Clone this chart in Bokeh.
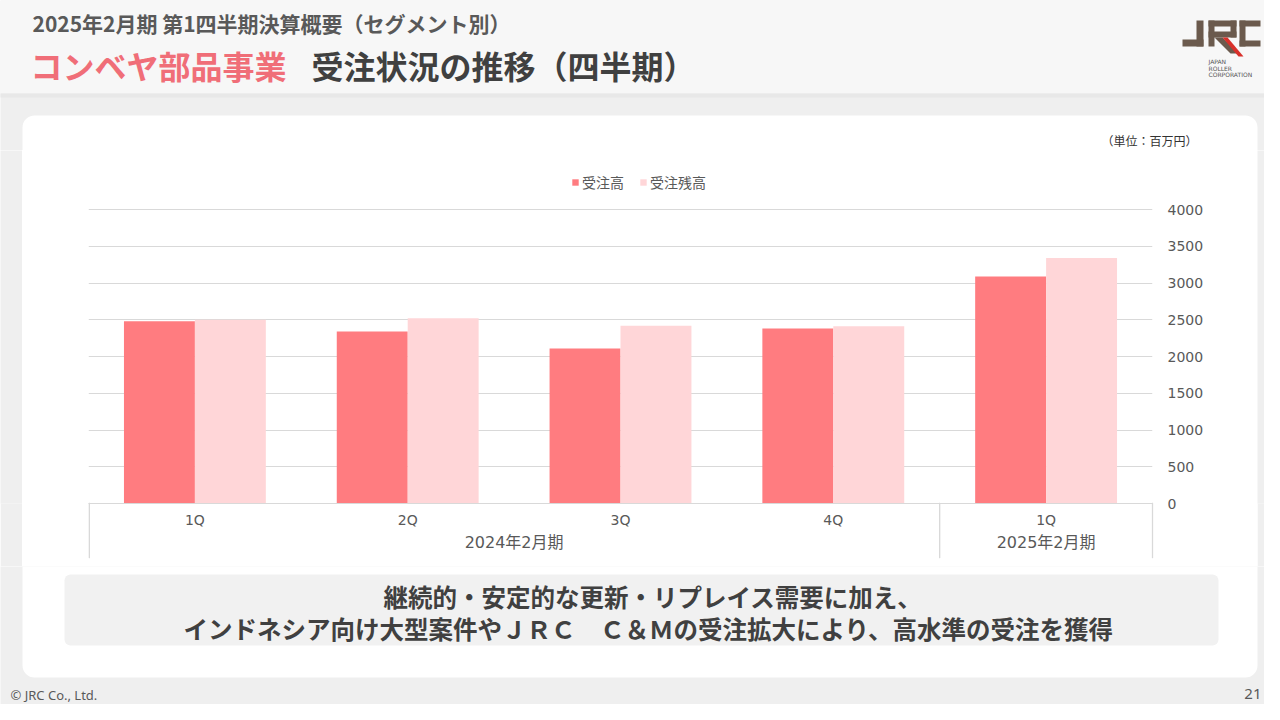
from bokeh.plotting import figure
from bokeh.layouts import column, row
from bokeh.models import (ColumnDataSource, FactorRange, Range1d, Legend, LegendItem,
                          BoxAnnotation, PolyAnnotation, Label, FixedTicker)
from bokeh.transform import dodge
from bokeh.embed import file_html
from bokeh.resources import INLINE

# ---- data ----
periods = ["2024年2月期", "2024年2月期", "2024年2月期", "2024年2月期", "2025年2月期"]
quarters = ["1Q", "2Q", "3Q", "4Q", "1Q"]
orders = [2480, 2340, 2110, 2380, 3090]      # 受注高
backlog = [2500, 2520, 2420, 2410, 3340]     # 受注残高
series_names = ["受注高", "受注残高"]
y_ticks = [0, 500, 1000, 1500, 2000, 2500, 3000, 3500, 4000]

factors = list(zip(periods, quarters))
src = ColumnDataSource(dict(x=factors, orders=orders, backlog=backlog))

JP = "'Noto Sans CJK JP'"
AX = "'DejaVu Sans', 'Noto Sans CJK JP'"
GRAY = "#595959"
BG = "#efefef"

W, H = 1264, 704
FL, FR = 88, 1152          # plot frame left/right (page px)
Y0, Y4000 = 503, 209       # page rows of value 0 and value 4000
TOP, BOT = 150, 566        # vertical extent of the chart figure
CARD = (22, 1257, 115, 677)


def deco(x0, x1, y0, y1, fill=BG):
    f = figure(width=x1 - x0, height=y1 - y0, x_range=Range1d(x0, x1), y_range=Range1d(y1, y0),
               output_backend="svg", toolbar_location=None, min_border=0,
               x_axis_type=None, y_axis_type=None)
    f.xgrid.visible = False
    f.ygrid.visible = False
    f.outline_line_color = None
    f.background_fill_color = fill
    f.border_fill_color = fill
    return f


def box(f, l, r, t, b, color, radius=0):
    f.add_layout(BoxAnnotation(left=l, right=r, top=t, bottom=b, fill_color=color, fill_alpha=1,
                               line_color=None, border_radius=radius))


def poly(f, xs, ys, color):
    f.add_layout(PolyAnnotation(xs=xs, ys=ys, fill_color=color, fill_alpha=1, line_color=None))


def label(f, x, y, text, size, color, bold=False, align="left", font=JP):
    f.add_layout(Label(x=x, y=y, text=text, text_font=font, text_font_size=size,
                       text_color=color, text_font_style="bold" if bold else "normal",
                       text_align=align, text_baseline="middle"))


# ---------- header ----------
hd = deco(0, W, 0, TOP)
box(hd, -5, W + 5, -5, 93, "#f7f7f7")
box(hd, -5, W + 5, 93, 97, "#e8e8e8")
box(hd, CARD[0], CARD[1], CARD[2], CARD[2] + 60, "white", radius=12)
label(hd, 32, 22, "2025年2月期 第1四半期決算概要（セグメント別）", "21px", GRAY, bold=True)
label(hd, 30, 64, "コンベヤ部品事業", "32px", "#F06E78", bold=True)
label(hd, 311, 64, "受注状況の推移（四半期）", "32px", "#404040", bold=True)
label(hd, 1197, 140, "（単位：百万円）", "12px", "#333333", align="right")
# logo
BR, RD = "#6b5a4d", "#d8302a"
box(hd, 1196, 1203, 20, 46, BR)             # J
box(hd, 1182, 1203, 39, 46, BR)
box(hd, 1208, 1236, 20, 26, BR)             # R
box(hd, 1230, 1236, 20, 37, BR)
box(hd, 1208, 1236, 31, 37, BR)
box(hd, 1208, 1214, 20, 46, BR)
poly(hd, [1214, 1222, 1238, 1230], [37, 37, 53, 53], BR)
poly(hd, [1222, 1227, 1243, 1238], [37, 37, 56, 56], RD)
box(hd, 1239, 1260, 20, 26, BR)             # C
box(hd, 1239, 1245, 20, 46, BR)
box(hd, 1239, 1260, 40, 46, BR)
label(hd, 1208, 61, "JAPAN", "6px", "#555555", font="'DejaVu Sans'")
label(hd, 1208, 67.5, "ROLLER", "6px", "#555555", font="'DejaVu Sans'")
label(hd, 1208, 74, "CORPORATION", "6px", "#555555", font="'DejaVu Sans'")

# ---------- side strips ----------
lg = deco(0, CARD[0], TOP, BOT)
lw = deco(CARD[0], FL, TOP, BOT, fill="white")
rt = deco(CARD[1], W, TOP, BOT)

# ---------- chart ----------
ymax = 4000 + (Y4000 - TOP) * 4000 / (Y0 - Y4000)
p = figure(width=CARD[1] - FL, height=BOT - TOP,
           x_range=FactorRange(*factors, factor_padding=0, group_padding=0,
                               subgroup_padding=0, range_padding=0),
           y_range=Range1d(0, ymax), y_axis_location="right",
           output_backend="svg", toolbar_location=None,
           min_border_left=0, min_border_right=CARD[1] - FR,
           min_border_top=0, min_border_bottom=BOT - Y0)
p.border_fill_color = "white"
p.background_fill_color = "white"
p.outline_line_color = None

r1 = p.vbar(x=dodge("x", -1 / 6, range=p.x_range), top="orders", width=1 / 3, source=src,
            fill_color="#FF7C80", line_color=None)
r2 = p.vbar(x=dodge("x", 1 / 6, range=p.x_range), top="backlog", width=1 / 3, source=src,
            fill_color="#FFD6D8", line_color=None)

legend = Legend(items=[LegendItem(label=series_names[0], renderers=[r1]),
                       LegendItem(label=series_names[1], renderers=[r2])],
                orientation="horizontal", location=(483, Y0 - 192),
                padding=0, margin=0, spacing=15, label_standoff=3,
                glyph_width=8, glyph_height=8, label_height=18,
                label_text_font=JP, label_text_font_size="14px", label_text_color=GRAY,
                border_line_color=None, background_fill_alpha=0)
p.add_layout(legend)

p.xgrid.visible = False
p.ygrid.grid_line_color = "#d9d9d9"
p.yaxis.ticker = FixedTicker(ticks=y_ticks)
p.yaxis.axis_line_color = None
p.yaxis.major_tick_line_color = None
p.yaxis.minor_tick_line_color = None
p.yaxis.major_label_text_font = AX
p.yaxis.major_label_text_font_size = "14px"
p.yaxis.major_label_text_color = GRAY
p.yaxis.major_label_standoff = 9

p.xaxis.axis_line_color = "#d9d9d9"
p.xaxis.major_tick_line_color = None
p.xaxis.minor_tick_line_color = None
p.xaxis.major_label_text_font = AX
p.xaxis.major_label_text_font_size = "14px"
p.xaxis.major_label_text_color = GRAY
p.xaxis.major_label_standoff = 2
p.xaxis.group_text_font = AX
p.xaxis.group_text_font_size = "16px"
p.xaxis.group_text_font_style = "normal"
p.xaxis.group_text_color = GRAY
p.xaxis.separator_line_color = None

# category separators below the axis line (left edge, between fiscal years, right edge)
sep_mid = -(27 * 4000 / (Y0 - Y4000))     # value at the middle of the label band
for sx in (0.004, 4.0, 5.0):
    p.add_layout(Label(x=sx, y=sep_mid, text=" ", text_font_size="1px",
                       text_align="center", text_baseline="middle",
                       background_fill_color="#d9d9d9", background_fill_alpha=1,
                       border_line_color="#d9d9d9", border_line_width=1,
                       padding=(0, 27)), "right")

# ---------- bottom ----------
bt = deco(0, W, BOT, H)
box(bt, CARD[0], CARD[1], BOT - 40, CARD[3], "white", radius=12)
box(bt, 64, 1218, 574, 645, "#f1f1f1", radius=6)
label(bt, 383, 596, "継続的・安定的な更新・リプレイス需要に加え、", "24.5px", "#404040", bold=True)
label(bt, 183, 628, "インドネシア向け大型案件やＪＲＣ　Ｃ＆Ｍの受注拡大により、高水準の受注を獲得",
      "24.5px", "#404040", bold=True)
label(bt, 10, 694, "© JRC Co., Ltd.", "13px", GRAY, font="'Noto Sans'")
label(bt, 1261, 693, "21", "15px", GRAY, align="right", font="'Noto Sans'")

layout = column(hd, row(lg, lw, p, rt), bt)
open("out.html", "w").write(file_html(layout, INLINE))
